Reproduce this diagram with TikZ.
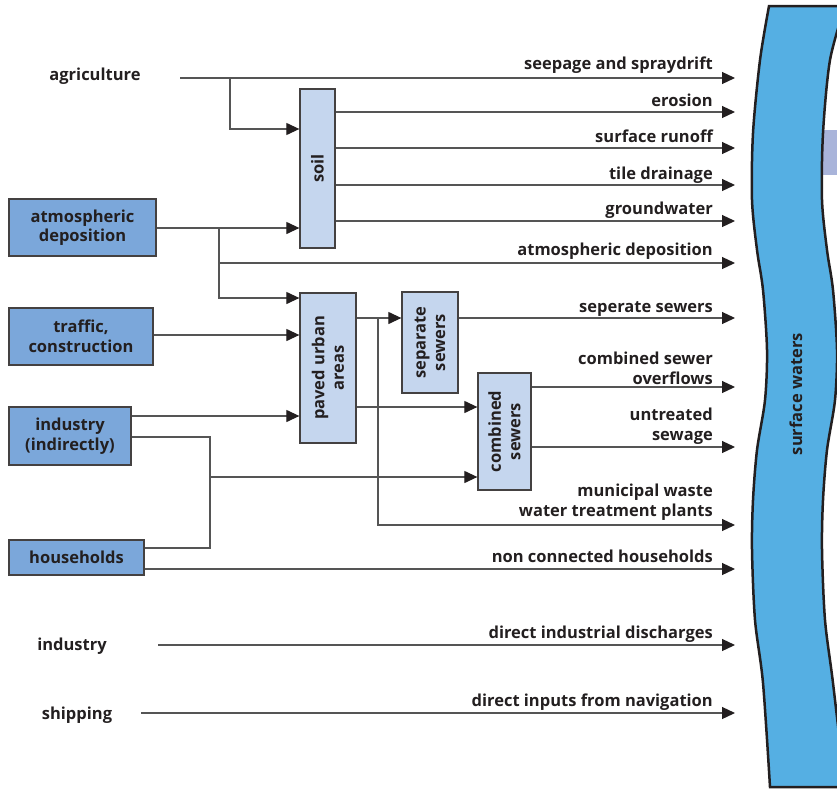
\documentclass[tikz,border=0pt]{standalone}
\usepackage{fontspec}
\setmainfont{Open Sans}
\usetikzlibrary{arrows.meta}
\definecolor{outerbox}{HTML}{7BA7DA}
\definecolor{innerbox}{HTML}{C5D6EE}
\definecolor{river}{HTML}{55AFE3}
\definecolor{lav}{HTML}{A9B4DA}
\definecolor{wire}{HTML}{555555}
\definecolor{ink}{HTML}{231F20}
\begin{document}
\begin{tikzpicture}[x=1pt,y=-1pt,
  txt/.style={font=\fontsize{16.5}{19.5}\selectfont\bfseries, text=ink, inner sep=0pt},
  lbl/.style={txt, align=right, anchor=base east, yshift=-1.2pt},
  obox/.style={draw=ink!85, line width=1.3pt, fill=outerbox, txt, align=center},
  ibox/.style={draw=ink!85, line width=1.3pt, fill=innerbox},
  rtxt/.style={txt, rotate=90, align=center},
  wire/.style={draw=wire, line width=1.2pt},
  arr/.style={wire, -{Triangle[length=13pt,width=12pt,color=ink]}}
]
\useasboundingbox (0,0) rectangle (837,790);
% river
\begin{scope}
\clip (0,0) rectangle (837,790);
\fill[lav] (820,130) rectangle (840,175);
\draw[fill=river, draw=ink, line width=2.5pt]
  plot[smooth] coordinates {(769,6) (760,60) (753,133) (752,200) (757,250) (763,290) (767,350) (765,400) (757,450) (753,500) (752,550) (755,620) (763,683) (770,787)}
  -- plot[smooth] coordinates {(845,787) (833,683) (825,620) (822,550) (823,500) (827,450) (835,400) (837,350) (833,290) (827,250) (822,200) (823,133) (830,60) (845,6)}
  -- cycle;
\end{scope}
\node[rtxt] (sw) at (796,394) {surface waters};

% sources
\node[txt, anchor=base] (agri) at (95,80) {agriculture};
\node[obox, minimum width=147, minimum height=57] (atm) at (82.5,227.5) {atmospheric\\deposition};
\node[obox, minimum width=144, minimum height=57] (traf) at (81,336.5) {traffic,\\construction};
\node[obox, minimum width=122, minimum height=58] (indi) at (70,436) {industry\\(indirectly)};
\node[obox, minimum width=135, minimum height=35] (hh) at (76.5,557.5) {households};
\node[txt, anchor=base] (ind) at (72,650) {industry};
\node[txt, anchor=base] (ship) at (77,719) {shipping};

% intermediate boxes
\node[ibox, minimum width=35, minimum height=159] (soil) at (317.5,168.5) {};
\node[rtxt] at (soil) {soil};
\node[ibox, minimum width=56, minimum height=150] (paved) at (328,368) {};
\node[rtxt] at (paved) {paved urban\\areas};
\node[ibox, minimum width=56, minimum height=101] (sep) at (430,342.5) {};
\node[rtxt] at (sep) {separate\\sewers};
\node[ibox, minimum width=53, minimum height=117] (comb) at (504.5,431.5) {};
\node[rtxt] at (comb) {combined\\sewers};

% river entry points
\coordinate (rSeep) at (735,78);
\coordinate (rEros) at (735,112);
\coordinate (rRun) at (735,148);
\coordinate (rTile) at (735,185);
\coordinate (rGw) at (735,221);
\coordinate (rAtm) at (735,263);
\coordinate (rSep) at (735,318);
\coordinate (rCso) at (735,387);
\coordinate (rUnt) at (735,447);
\coordinate (rWwtp) at (735,525);
\coordinate (rNch) at (735,569);
\coordinate (rInd) at (735,645);
\coordinate (rNav) at (735,713);

% junctions and free starts
\coordinate (agS) at (180,78);
\coordinate (jAg) at (230,78);
\coordinate (jAtm) at (219,228);
\coordinate (jAtm2) at (219,263);
\coordinate (jInd) at (210,437);
\coordinate (jHh) at (210,477);
\coordinate (jPav) at (378,318);
\coordinate (indS) at (158,645);
\coordinate (shipS) at (141,713);

% connectors
\draw[arr] (agS) -- (rSeep);
\draw[arr] (jAg) |- (soil.west |- 0,129);
\draw[arr] (atm.east |- 0,228) -- (soil.west |- 0,228);
\draw[arr] (jAtm) |- (paved.west |- 0,298);
\draw[arr] (jAtm2) -- (rAtm);
\draw[arr] (soil.east |- rEros) -- (rEros);
\draw[arr] (soil.east |- rRun) -- (rRun);
\draw[arr] (soil.east |- rTile) -- (rTile);
\draw[arr] (soil.east |- rGw) -- (rGw);
\draw[arr] (traf.east |- 0,335) -- (paved.west |- 0,335);
\draw[arr] (indi.east |- 0,416) -- (paved.west |- 0,416);
\draw[wire] (indi.east |- jInd) -- (jInd) -- (jInd |- 0,548) -- (hh.east |- 0,548);
\draw[arr] (jHh) -- (comb.west |- jHh);
\draw[arr] (hh.east |- rNch) -- (rNch);
\draw[arr] (paved.east |- jPav) -- (sep.west |- jPav);
\draw[arr] (jPav) |- (rWwtp);
\draw[arr] (paved.east |- 0,407) -- (comb.west |- 0,407);
\draw[arr] (sep.east |- rSep) -- (rSep);
\draw[arr] (comb.east |- rCso) -- (rCso);
\draw[arr] (comb.east |- rUnt) -- (rUnt);
\draw[arr] (indS) -- (rInd);
\draw[arr] (shipS) -- (rNav);

% labels
\node[lbl] at (713,68) {seepage and spraydrift};
\node[lbl] at (713,105) {erosion};
\node[lbl] at (713,141.5) {surface runoff};
\node[lbl] at (713,178) {tile drainage};
\node[lbl] at (713,213.5) {groundwater};
\node[lbl] at (713,254) {atmospheric deposition};
\node[lbl] at (713,311) {seperate sewers};
\node[lbl] at (713,383) {combined sewer\\overflows};
\node[lbl] at (713,439) {untreated\\sewage};
\node[lbl] at (713,515) {municipal waste\\water treatment plants};
\node[lbl] at (713,561.5) {non connected households};
\node[lbl] at (713,637) {direct industrial discharges};
\node[lbl] at (713,705) {direct inputs from navigation};
\end{tikzpicture}
\end{document}
